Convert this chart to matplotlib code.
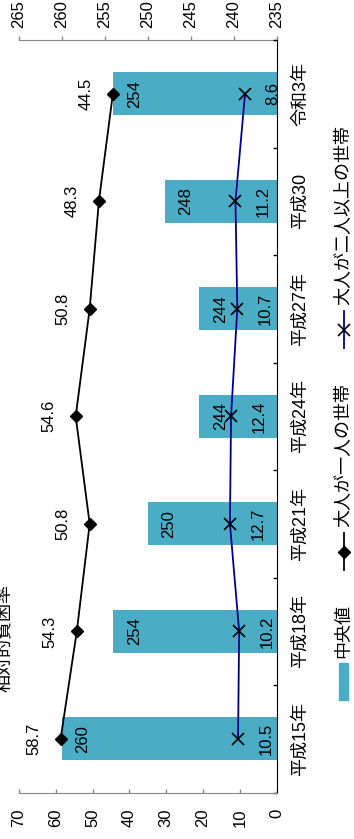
import matplotlib
matplotlib.use('Agg')
import matplotlib.pyplot as plt
from matplotlib import font_manager
from matplotlib.patches import Rectangle
from matplotlib.lines import Line2D
import numpy as np

# ---- data ----
categories = ['平成15年', '平成18年', '平成21年', '平成24年', '平成27年', '平成30', '令和3年']
median_income = [260, 254, 250, 244, 244, 248, 254]
single_adult = [58.7, 54.3, 50.8, 54.6, 50.8, 48.3, 44.5]
multi_adult = [10.5, 10.2, 12.7, 12.4, 10.7, 11.2, 8.6]
series_names = ['中央値', '大人が一人の世帯', '大人が二人以上の世帯']
title = '相対的貧困率'
primary_ticks = [0, 10, 20, 30, 40, 50, 60, 70]
secondary_ticks = [235, 240, 245, 250, 255, 260, 265]

installed = {f.name for f in font_manager.fontManager.ttflist}
num_font = 'Liberation Sans Narrow' if 'Liberation Sans Narrow' in installed else 'Liberation Sans'
plt.rcParams['font.family'] = [num_font, 'Noto Sans CJK JP', 'DejaVu Sans']
CJK = ['Noto Sans CJK JP', 'DejaVu Sans']

BAR = '#4BACC6'
NAVY = '#000090'
AXG = '#868686'

W, H = 354, 839
fig = plt.figure(figsize=(W / 100, H / 100), dpi=100)


def fx(px):
    return px / W


def fy(py):
    return 1 - py / H


L, R, T, B = 19, 276.7, 40, 792.7
ax = fig.add_axes([fx(L), fy(B), (R - L) / W, (B - T) / H])
ax2 = ax.twiny()
ax.set_zorder(ax2.get_zorder() + 1)
ax.patch.set_visible(False)

y = np.arange(len(categories))

# bars on the secondary scale
ax2.barh(y, np.array(median_income) - secondary_ticks[0], left=secondary_ticks[0],
         height=0.4, color=BAR, zorder=2)
ax2.set_xlim(secondary_ticks[-1], secondary_ticks[0])

# lines on the primary scale
ax.plot(single_adult, y, color='black', lw=1.3, marker='D', ms=6,
        mfc='black', mec='black', zorder=3)
ax.plot(multi_adult, y, color=NAVY, lw=1.3, marker='x', ms=9,
        mec='black', mew=1.2, zorder=3)
ax.set_xlim(primary_ticks[-1], primary_ticks[0])
ax.set_ylim(-0.5, len(categories) - 0.5)

NFS = 12
for v, yi in zip(single_adult, y):
    ax.annotate(f'{v}', (v, yi), xytext=(-27, 0), textcoords='offset pixels',
                rotation=90, ha='center', va='center', fontsize=NFS)
for v, yi in zip(multi_adult, y):
    ax.annotate(f'{v}', (v, yi), xytext=(28, 0), textcoords='offset pixels',
                rotation=90, ha='center', va='center', fontsize=NFS)
for v, yi in zip(median_income, y):
    ax2.annotate(f'{v}', (v, yi), xytext=(21, 0), textcoords='offset pixels',
                 rotation=90, ha='center', va='center', fontsize=NFS, zorder=4)

# primary axis (bottom)
ax.set_xticks(primary_ticks)
ax.tick_params(axis='x', direction='in', length=3, width=1, color=AXG,
               pad=11.5, labelsize=NFS, labelrotation=90)
# secondary axis (top)
ax2.set_xticks(secondary_ticks)
ax2.tick_params(axis='x', direction='out', length=3, width=1, color=AXG,
                pad=5.5, labelsize=NFS, labelrotation=90)

# category axis (right)
ax.yaxis.tick_right()
ax.set_yticks(y)
ax.set_yticklabels(categories, rotation=90, va='center', ha='left')
ax.set_yticks(np.arange(len(categories) + 1) - 0.5, minor=True)
ax.tick_params(axis='y', which='major', length=0, pad=11, labelsize=13)
ax.tick_params(axis='y', which='minor', direction='in', length=3, width=1, color='black')
ax2.tick_params(axis='y', which='both', left=False, right=False,
                labelleft=False, labelright=False)

for s in ['left', 'top']:
    ax.spines[s].set_visible(False)
ax.spines['bottom'].set_color(AXG)
ax.spines['right'].set_color('black')
for s in ['left', 'right', 'bottom']:
    ax2.spines[s].set_visible(False)
ax2.spines['top'].set_color(AXG)

# title (partly clipped at the left edge as in the reference)
fig.text(fx(4.5), fy(638), title, rotation=90, ha='center', va='center',
         fontsize=13, family=CJK)

# legend (drawn rotated, stacked along the vertical)
LX = 343.5
fig.patches.append(Rectangle((fx(339), fy(700)), 9 / W, 37 / H,
                             transform=fig.transFigure, color=BAR))
fig.text(fx(LX), fy(658), series_names[0], rotation=90, ha='center', va='bottom',
         fontsize=13, family=CJK)
fig.add_artist(Line2D([fx(LX), fx(LX)], [fy(570), fy(533)], color='black', lw=1.3,
                      transform=fig.transFigure))
fig.add_artist(Line2D([fx(LX)], [fy(551.5)], marker='D', ms=6, color='black',
                      transform=fig.transFigure))
fig.text(fx(LX), fy(527), series_names[1], rotation=90, ha='center', va='bottom',
         fontsize=13, family=CJK)
fig.add_artist(Line2D([fx(LX), fx(LX)], [fy(348), fy(311)], color=NAVY, lw=1.3,
                      transform=fig.transFigure))
fig.add_artist(Line2D([fx(LX)], [fy(329.5)], marker='x', ms=9, mew=1.2, color='black',
                      transform=fig.transFigure))
fig.text(fx(LX), fy(305), series_names[2], rotation=90, ha='center', va='bottom',
         fontsize=13, family=CJK)

fig.savefig('out.png', dpi=100)
